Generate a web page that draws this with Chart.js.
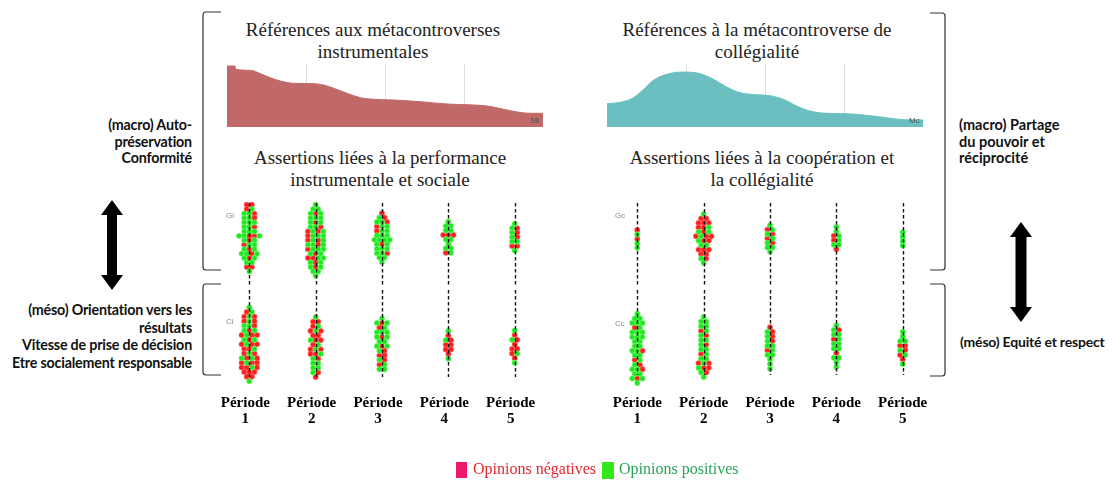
<!DOCTYPE html>
<html lang="fr">
<head>
<meta charset="utf-8">
<script src="https://cdn.jsdelivr.net/npm/chart.js@4.4.1/dist/chart.umd.min.js"></script>
<style>
  body { margin: 0; background: #fff; }
  #page { position: relative; width: 1113px; height: 482px; overflow: hidden; font-family: "Liberation Serif", "Times New Roman", serif; }
  #page canvas, .abs { position: absolute; }
  .titre { font-size: 19px; line-height: 22px; color: #222; text-align: center; white-space: nowrap; width: 320px; }
  .cote { font-family: Lato, "Open Sans", sans-serif; font-weight: bold; font-size: 14.3px; line-height: 16.5px; color: #111; white-space: nowrap; letter-spacing: -0.2px; }
  .code { font-family: "Liberation Sans", Arial, sans-serif; font-size: 8px; color: #8a8a8a; }
  .legende { font-size: 16px; white-space: nowrap; }
</style>
</head>
<body>
<div id="page">
  <div class="abs titre" style="left:213px; top:19px;">Références aux métacontroverses<br>instrumentales</div>
  <div class="abs titre" style="left:597px; top:19px;">Références à la métacontroverse de<br>collégialité</div>
  <div class="abs titre" style="left:220px; top:147px;">Assertions liées à la performance<br>instrumentale et sociale</div>
  <div class="abs titre" style="left:602px; top:147px;">Assertions liées à la coopération et<br>la collégialité</div>

  <canvas id="aireMi" width="316" height="63" style="left:227px; top:64px;"></canvas>
  <canvas id="aireMc" width="316" height="63" style="left:607px; top:64px;"></canvas>
  <div class="abs code" style="left:531px; top:116px; color:#555;">Mi</div>
  <div class="abs code" style="left:909px; top:116px; color:#555;">Mc</div>

  <canvas id="nuageGi" width="352" height="95" style="left:206px; top:195px;"></canvas>
  <canvas id="nuageCi" width="352" height="141" style="left:206px; top:290px;"></canvas>
  <canvas id="nuageGc" width="352" height="95" style="left:594px; top:195px;"></canvas>
  <canvas id="nuageCc" width="352" height="141" style="left:594px; top:290px;"></canvas>
  <div class="abs code" style="left:226px; top:211px;">Gi</div>
  <div class="abs code" style="left:226px; top:317px;">Ci</div>
  <div class="abs code" style="left:615px; top:211px;">Gc</div>
  <div class="abs code" style="left:615px; top:319px;">Cc</div>

  <div class="abs cote" style="left:0; width:192px; top:117px; text-align:right;">(macro) Auto-<br>préservation<br>Conformité</div>
  <div class="abs cote" style="left:0; width:192px; top:301px; line-height:17.7px; text-align:right;">(méso) Orientation vers les<br>résultats<br>Vitesse de prise de décision<br>Etre socialement responsable</div>
  <div class="abs cote" style="left:959px; top:117px; font-size:14.5px; letter-spacing:0;">(macro) Partage<br>du pouvoir et<br>réciprocité</div>
  <div class="abs cote" style="left:960px; top:333px; font-size:14px; letter-spacing:-0.2px; line-height:17px;">(méso) Equité et respect</div>

  <svg class="abs" style="left:0; top:0;" width="1113" height="482">
    <g fill="none" stroke="#333" stroke-width="1.2">
      <path d="M221 12 H206 Q203 12 203 15 V267 Q203 270 206 270 H221"/>
      <path d="M221 284 H206 Q203 284 203 287 V372 Q203 375 206 375 H221"/>
      <path d="M930 13 H942 Q945 13 945 16 V267 Q945 270 942 270 H930"/>
      <path d="M930 284 H942 Q945 284 945 287 V373 Q945 376 942 376 H930"/>
    </g>
    <polygon fill="#000" points="112,200 123,215 117,215 117,275 123,275 112,290 101,275 107,275 107,215 101,215"/>
    <polygon fill="#000" points="1021,222 1032,237 1026.5,237 1026.5,307 1032,307 1021,322 1010,307 1015.5,307 1015.5,237 1010,237"/>
  </svg>

  <div class="abs" style="left:456px; top:462px; width:11px; height:16px; background:#f0186a;"></div>
  <div class="abs legende" style="left:473px; top:460px; color:#e8262e;">Opinions négatives</div>
  <div class="abs" style="left:602px; top:462px; width:12px; height:17px; background:#33e81a;"></div>
  <div class="abs legende" style="left:619px; top:460px; color:#2aa55a;">Opinions positives</div>
</div>

<script>
// courbes de fréquence des références (axe horizontal en % de la durée)
const miX = [0, 2.5, 2.8, 7.4, 10.6, 13.7, 16.9, 21.1, 27.5, 30.6, 33.8, 38, 42.2, 46.5, 52.8, 61.2, 69.7, 78.1, 82.4, 87.6, 91.9, 96.1, 100];
const miY = [61, 61, 57.7, 56.7, 53.3, 49.3, 46, 43.7, 43.3, 42, 38.7, 33.7, 29.3, 27.7, 27, 25.3, 23, 22, 21, 17.7, 15, 13.7, 13.7];
const mcX = [0, 4.2, 8.4, 11.6, 14.7, 18.9, 24.2, 29.5, 33.7, 37.9, 42.1, 47.4, 51.6, 55.8, 60, 64.2, 69.5, 75.8, 82.1, 88.4, 93.7, 100];
const mcY = [23.3, 24.7, 29.3, 37.7, 46.7, 52.7, 55, 53.3, 47.7, 40, 34.3, 32.3, 31.3, 27.7, 21, 16, 13.7, 13.3, 11.7, 9.3, 7.3, 7];

const periodes = ["1", "2", "3", "4", "5"];

// assertions par période : valeur de la rangée du haut, puis rangées (r = négative, g = positive)
const giHaut = [18.4, 18.4, 16.5, 14.6, 14.1];
const giLignes = [
  ["rr", "rg", "ggr", "ggr", "ggg", "ggr", "ggg", "ggrrg", "grg", "rgg", "grg", "ggrg", "grg", "gg", "rr", "g"],
  ["g", "gg", "grg", "ggg", "grg", "ggr", "rgrg", "rggg", "rgrg", "ggrg", "rggg", "grg", "rrgg", "grg", "grg", "gg", "g"],
  ["r", "gr", "ggr", "rgg", "rgg", "ggg", "gggg", "grg", "ggg", "ggr", "gg", "g"],
  ["g", "gg", "gg", "rrr", "gg", "g", "gg", "rg"],
  ["g", "gr", "gr", "gr", "gg", "rr", "g"]
];
const ciHaut = [16.8, 14.7, 14.4, 11.7, 11.8];
const ciLignes = [
  ["g", "rg", "rgr", "rgr", "ggr", "grg", "rgrr", "grg", "rgrr", "rrg", "rgr", "grgr", "rgrr", "rrgr", "rrr", "rr", "g"],
  ["g", "rr", "rg", "rgr", "rr", "grr", "rg", "rgr", "rrg", "gr", "gg", "gg", "gr", "r"],
  ["g", "grg", "rg", "ggg", "grg", "gg", "grg", "gr", "rr", "gr", "rg", "gg"],
  ["g", "r", "gr", "rr", "rr", "r", "g"],
  ["g", "r", "gr", "r", "rr", "rg", "r", "g"]
];
const gcHaut = [12.7, 16.3, 13.8, 13.4, 12.2];
const gcLignes = [
  ["r", "g", "r", "g", "g"],
  ["g", "rr", "rrr", "rrg", "grg", "rgrr", "grr", "gg", "rrr", "rr", "gr", "g"],
  ["g", "rg", "gr", "rg", "gr", "gg", "g"],
  ["g", "g", "rg", "rg", "gg", "r"],
  ["g", "g", "g", "g"]
];
const ccHaut = [15.4, 14.7, 12.5, 12.9, 11.5];
const ccLignes = [
  ["g", "gg", "ggg", "rg", "ggg", "ggg", "gg", "gg", "ggr", "gg", "rg", "gr", "ggr", "gg", "grg", "g"],
  ["g", "gg", "gg", "rg", "gr", "gg", "gr", "gg", "rg", "gg", "rgr", "grr", "gr", "g"],
  ["r", "gr", "gr", "gr", "gg", "rg", "gg", "g", "g", "g"],
  ["g", "gr", "gg", "rg", "gg", "gg", "r", "gg", "g", "g"],
  ["g", "g", "gg", "rr", "gr", "rg", "r", "g"]
];

const ECART = 0.077; // écart horizontal entre deux points d'une rangée (en périodes)
const SERIF = "'Liberation Serif', 'Times New Roman', serif";

function aire(id, xs, ys, couleur) {
  new Chart(document.getElementById(id), {
    type: "line",
    data: {
      datasets: [{
        data: xs.map((x, i) => ({ x: x, y: ys[i] })),
        fill: "origin",
        backgroundColor: couleur,
        borderColor: couleur,
        borderWidth: 1,
        pointRadius: 0,
        cubicInterpolationMode: "monotone"
      }]
    },
    options: {
      responsive: false,
      animation: false,
      layout: { padding: 0 },
      plugins: { legend: { display: false }, tooltip: { enabled: false } },
      scales: {
        x: {
          type: "linear", min: 0, max: 100,
          afterBuildTicks: (s) => { s.ticks = [25, 50, 75].map((v) => ({ value: v })); },
          ticks: { display: false },
          grid: { color: "#dedede", drawTicks: false },
          border: { display: true, color: "#e8e8e8" }
        },
        y: { display: false, min: 0, max: 63 }
      }
    }
  });
}

const lignesPeriodes = {
  id: "lignesPeriodes",
  afterDatasetsDraw(chart, args, opts) {
    const { ctx, chartArea, scales } = chart;
    const haut = opts.haut != null ? opts.haut : chartArea.top;
    const bas = opts.bas != null ? opts.bas : chartArea.bottom;
    ctx.save();
    ctx.strokeStyle = "#111";
    ctx.lineWidth = 1.4;
    ctx.setLineDash([3.5, 2.5]);
    periodes.forEach((p, i) => {
      const x = Math.round(scales.x.getPixelForValue(i + 1)) + 0.5;
      ctx.beginPath();
      ctx.moveTo(x, haut);
      ctx.lineTo(x, bas);
      ctx.stroke();
    });
    ctx.restore();
  }
};

function points(haut, lignes, code) {
  const pts = [];
  lignes.forEach((rangees, k) => {
    rangees.forEach((rangee, r) => {
      const n = rangee.length;
      [...rangee].forEach((c, i) => {
        if (c === code) pts.push({ x: k + 1 + (i - (n - 1) / 2) * ECART, y: haut[k] - r });
      });
    });
  });
  return pts;
}

function nuage(id, haut, lignes, avecAxe, lignesOpts, decalage) {
  new Chart(document.getElementById(id), {
    type: "scatter",
    data: {
      datasets: [
        {
          label: "Opinions positives",
          data: points(haut, lignes, "g"),
          pointRadius: 2.7, pointHoverRadius: 2.7,
          backgroundColor: "#22e622", borderColor: "rgba(120,255,120,0.7)", borderWidth: 0.8,
          clip: false
        },
        {
          label: "Opinions négatives",
          data: points(haut, lignes, "r"),
          pointRadius: 2.7, pointHoverRadius: 2.7,
          backgroundColor: "#ff1e1e", borderColor: "rgba(255,120,120,0.7)", borderWidth: 0.8,
          clip: false
        }
      ]
    },
    options: {
      responsive: false,
      animation: false,
      layout: { padding: 0 },
      plugins: { legend: { display: false }, tooltip: { enabled: false }, lignesPeriodes: lignesOpts },
      scales: {
        x: {
          type: "linear", min: 0.4, max: 5.6,
          display: avecAxe,
          afterBuildTicks: (s) => { s.ticks = periodes.map((p, i) => ({ value: i + 1 })); },
          ticks: {
            padding: 4.5,
            labelOffset: decalage || 0,
            color: "#000",
            font: { family: SERIF, size: 15, weight: "bold", lineHeight: 1.05 },
            callback: (v) => ["Période", periodes[v - 1]]
          },
          grid: { display: false, drawTicks: false },
          border: { display: false }
        },
        y: avecAxe ? { display: false, min: -1.2, max: 19.8 } : { display: false, min: 0, max: 19.8 }
      }
    },
    plugins: [lignesPeriodes]
  });
}

aire("aireMi", miX, miY, "#c06968");
aire("aireMc", mcX, mcY, "#6bbfc0");

nuage("nuageGi", giHaut, giLignes, false, { haut: 8 });
nuage("nuageCi", ciHaut, ciLignes, true, { haut: 0, bas: 87 }, -4);
nuage("nuageGc", gcHaut, gcLignes, false, { haut: 8 });
nuage("nuageCc", ccHaut, ccLignes, true, { haut: 0, bas: 85 }, 0);
</script>
</body>
</html>
